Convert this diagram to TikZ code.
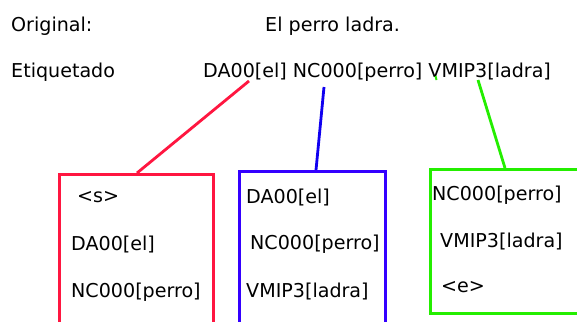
\documentclass[tikz,border=0pt]{standalone}
\usepackage{fontspec}
\setmainfont{DejaVu Sans}
\definecolor{tagred}{RGB}{255,22,64}
\definecolor{tagblue}{RGB}{52,0,255}
\definecolor{lineblue}{RGB}{16,0,240}
\definecolor{taggreen}{RGB}{36,238,0}
\begin{document}
\begin{tikzpicture}[x=1pt,y=-1pt,
  txt/.style={anchor=base west,inner sep=0pt,font=\fontsize{19.1}{22}\selectfont},
  framebox/.style={draw=#1,line width=2.8pt,anchor=north west,inner sep=0pt},
  link/.style={draw=#1,line width=2.8pt}]
\clip (0,0) rectangle (577,321);
\fill[white] (0,0) rectangle (577,321);

% header lines
\node[txt] (orig) at (11,32) {Original:};
\node[txt] (sent) at (265,32) {El perro ladra.};
\node[txt] (etiq) at (11,77) {Etiquetado};
\node[txt] (tags) at (203,77) {DA00[el] NC000[perro] VMIP3[ladra]};

% anchor points under the tagged words
\coordinate (rtop) at (249,81);
\coordinate (btop) at (324,87);
\coordinate (gtop) at (478,80);
\coordinate (gtick1) at (435.5,76);
\coordinate (gtick2) at (436.5,80);

% trigram boxes
\node[framebox=tagred,minimum width=154pt,minimum height=160pt] (rbox) at (58,173) {};
\node[framebox=tagblue,minimum width=146pt,minimum height=162pt] (bbox) at (238,170) {};
\node[framebox=taggreen,minimum width=160pt,minimum height=144pt] (gbox) at (429,168) {};

% connectors
\coordinate (rend) at (137,173);
\coordinate (bend) at (316,170);
\coordinate (gend) at (505,168);
\draw[link=tagred] (rtop) -- (rend);
\draw[link=lineblue] (btop) -- (bend);
\draw[link=taggreen] (gtop) -- (gend);
\draw[taggreen,line width=2pt] (gtick1) -- (gtick2);

% red box contents
\node[txt] (r1) at (77,202) {<s>};
\node[txt] (r2) at (71,250) {DA00[el]};
\node[txt] (r3) at (71,297) {NC000[perro]};

% blue box contents
\node[txt] (b1) at (246,203) {DA00[el]};
\node[txt] (b2) at (250,249) {NC000[perro]};
\node[txt] (b3) at (246,297) {VMIP3[ladra]};

% green box contents
\node[txt] (g1) at (432,200) {NC000[perro]};
\node[txt] (g2) at (440,247) {VMIP3[ladra]};
\node[txt] (g3) at (441,292) {<e>};
\end{tikzpicture}
\end{document}
